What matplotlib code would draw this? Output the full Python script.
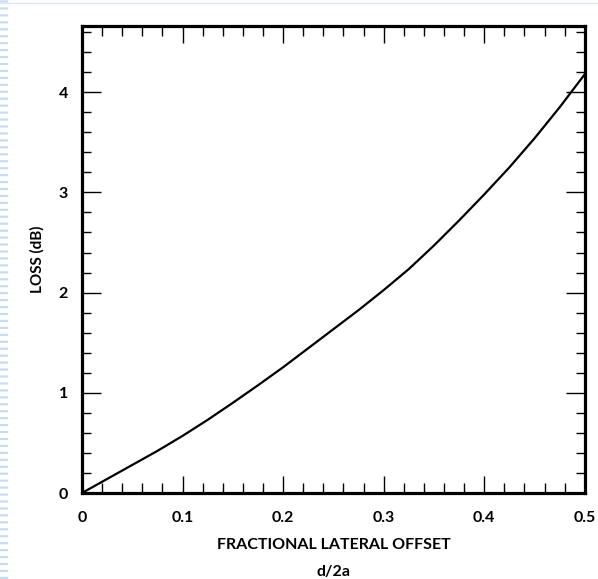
import matplotlib.pyplot as plt
from matplotlib.lines import Line2D
from matplotlib.ticker import MultipleLocator
import numpy as np

plt.rcParams['font.family'] = ['Lato', 'DejaVu Sans']
plt.rcParams['font.weight'] = 'bold'
plt.rcParams['lines.scale_dashes'] = False

# 曲线读数
offset = [0, 0.025, 0.05, 0.075, 0.1, 0.125, 0.15, 0.175, 0.2, 0.225, 0.25,
          0.275, 0.3, 0.325, 0.35, 0.375, 0.4, 0.425, 0.45, 0.475, 0.5]
loss = [0, 0.14, 0.28, 0.42, 0.57, 0.73, 0.90, 1.075, 1.255, 1.445, 1.635,
        1.825, 2.025, 2.235, 2.47, 2.72, 2.98, 3.25, 3.54, 3.85, 4.18]

xticks = [0, 0.1, 0.2, 0.3, 0.4, 0.5]
xlabels = ['0', '0.1', '0.2', '0.3', '0.4', '0.5']
yticks = [0, 1, 2, 3, 4]

fig = plt.figure(figsize=(5.98, 5.79), dpi=100)
ax = fig.add_axes([0.137, 0.1485, 0.841, 0.8065])

ax.plot(offset, loss, color='black', lw=1.6)

ax.set_xlim(0, 0.5)
ax.set_ylim(0, 4.66)
ax.set_xticks(xticks)
ax.set_xticklabels(xlabels)
ax.set_yticks(yticks)
ax.xaxis.set_minor_locator(MultipleLocator(0.02))
ax.yaxis.set_minor_locator(MultipleLocator(0.2))

ax.tick_params(which='both', direction='in', top=True, right=True, width=1.0,
               labelsize=11.5, pad=10)
ax.tick_params(axis='x', which='major', length=12, pad=13)
ax.tick_params(axis='x', which='minor', length=7)
ax.tick_params(axis='y', which='major', length=14)
ax.tick_params(axis='y', which='minor', length=6.5)

for sp in ax.spines.values():
	sp.set_linewidth(2.3)

ax.set_xlabel('FRACTIONAL LATERAL OFFSET\nd/2a', fontsize=11.5, fontweight='bold',
              linespacing=2.2, labelpad=9)
ax.set_ylabel('LOSS (dB)', fontsize=11, fontweight='bold', labelpad=10)

# 扫描边缘
fig.add_artist(Line2D([4 / 598, 4 / 598], [0, 1], transform=fig.transFigure,
                      color='#c6ddf1', lw=6, dashes=(1.6, 3.4)))
fig.add_artist(Line2D([0, 1], [1 - 3 / 579, 1 - 3 / 579], transform=fig.transFigure,
                      color='#dbe9f6', lw=1))

fig.savefig('out.png', dpi=100)
